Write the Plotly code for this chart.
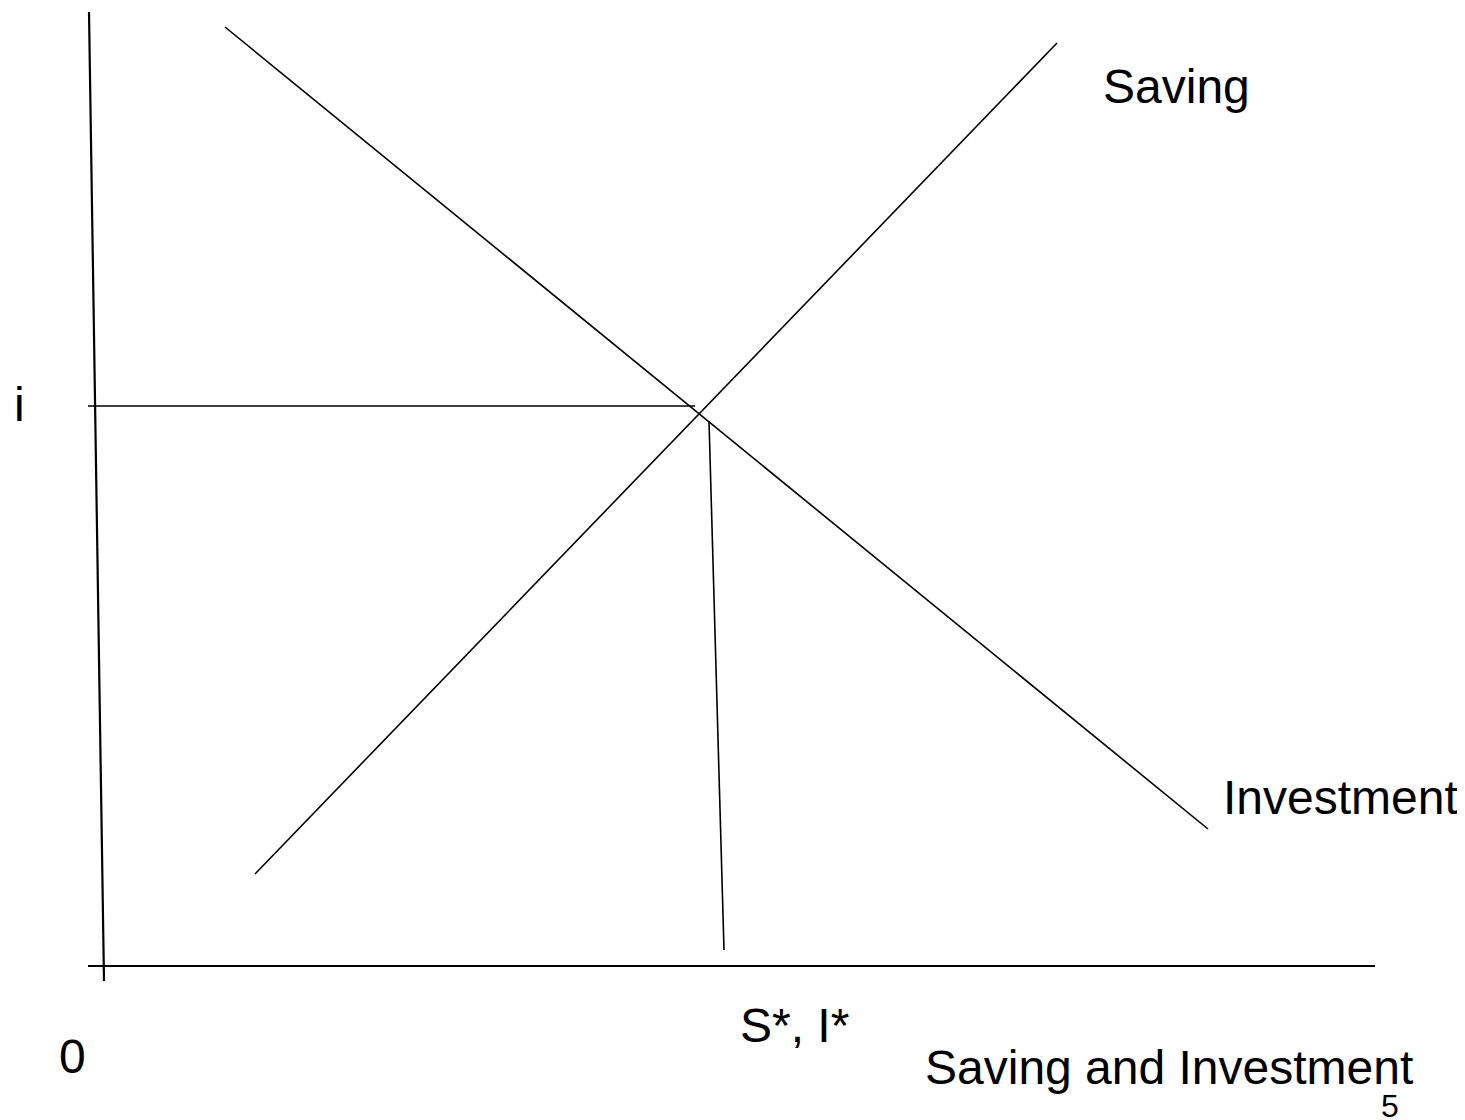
import plotly.graph_objects as go

# 画布坐标（像素，y向下）
W, H = 1465, 1120
PAD = 8  # 页面 body 默认边距

# 各线段端点
yaxis_line_x = [89, 104]
yaxis_line_y = [12, 981]
xaxis_line_x = [88, 1375]
xaxis_line_y = [966, 966]
investment_x = [225, 1208]
investment_y = [27, 829]
saving_x = [255, 1057]
saving_y = [874, 43]
rate_line_x = [88, 695]
rate_line_y = [406, 406]
qty_line_x = [709, 724]
qty_line_y = [421, 950]

# 文字标注
label_text = ["Saving", "Investment", "i", "0", "S*, I*", "Saving and Investment", "5"]
label_x = [1101, 1221, 12, 57, 738, 923, 1379]
label_y = [86, 797, 404, 1056, 1025, 1067, 1106]
label_size = [48, 48, 48, 48, 48, 48, 32]

fig = go.Figure()

thick = [(yaxis_line_x, yaxis_line_y), (xaxis_line_x, xaxis_line_y)]
thin = [(investment_x, investment_y), (saving_x, saving_y),
        (rate_line_x, rate_line_y), (qty_line_x, qty_line_y)]

for xs, ys in thick:
    fig.add_trace(go.Scatter(x=xs, y=ys, mode='lines',
                             line=dict(color='black', width=2.2), hoverinfo='skip'))
for xs, ys in thin:
    fig.add_trace(go.Scatter(x=xs, y=ys, mode='lines',
                             line=dict(color='black', width=1.6), hoverinfo='skip'))

for t, x, y, s in zip(label_text, label_x, label_y, label_size):
    fig.add_annotation(x=x, y=y, text=t, showarrow=False,
                       xanchor='left', yanchor='middle',
                       font=dict(family='Liberation Sans, Arial', size=s, color='black'))

# 抵消页面边距，使坐标与像素一致
fig.update_xaxes(range=[PAD, W + PAD], visible=False, fixedrange=True)
fig.update_yaxes(range=[H + PAD, PAD], visible=False, fixedrange=True)
fig.update_layout(width=W, height=H, margin=dict(l=0, r=0, t=0, b=0),
                  showlegend=False, plot_bgcolor='white', paper_bgcolor='white')

fig.write_html("out.html")
